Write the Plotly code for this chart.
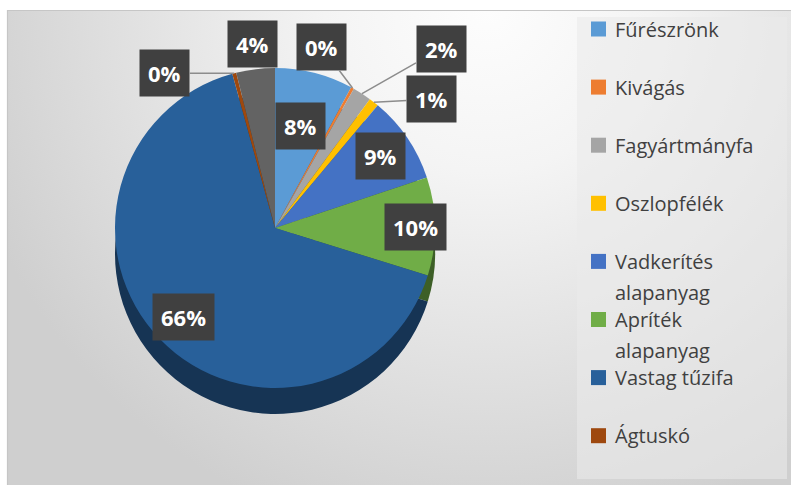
import base64
import math

import plotly.graph_objects as go

# ---- data -------------------------------------------------------------
categories = [
    "Fűrészrönk",
    "Kivágás",
    "Fagyártmányfa",
    "Oszlopfélék",
    "Vadkerítés alapanyag",
    "Apríték alapanyag",
    "Vastag tűzifa",
    "Ágtuskó",
    "Egyéb",
]
shares = [7.9, 0.3, 1.9, 1.0, 8.8, 9.9, 65.9, 0.4, 3.9]
legend_count = 8  # the last slice is not listed in the legend

# ---- style ------------------------------------------------------------
colors = ["#5B9BD5", "#ED7D31", "#A5A5A5", "#FFC000", "#4472C4",
          "#70AD47", "#28609A", "#9E480E", "#636363"]

W, H = 791, 485
CX, CY, R = 275, 228, 160      # pie centre and radius in pixels
DEPTH = 26                     # visible thickness of the pie side

# label placement: ("in", radius factor) or ("out", dx, dy) with a leader line
label_style = [
    ("in", 0.66),
    ("out", -31, -41),
    ("out", 79, -45),
    ("out", 58, -3),
    ("in", 0.80),
    ("in", 0.88),
    ("in", 0.80),
    ("out", -70, 0),
    ("in", 1.16),
]


def px(x):
    return x / W


def py(y):
    return 1 - y / H


def darken(hex_color, k=0.55):
    h = hex_color.lstrip("#")
    r, g, b = (int(h[i:i + 2], 16) for i in (0, 2, 4))
    return "rgb({},{},{})".format(int(r * k), int(g * k), int(b * k))


fig = go.Figure()

# side of the pie: same slices, darker, shifted down
fig.add_trace(go.Pie(
    labels=categories, values=shares, sort=False, direction="clockwise",
    rotation=0, textinfo="none", hoverinfo="skip", showlegend=False,
    marker=dict(colors=[darken(c) for c in colors], line=dict(width=0)),
    domain=dict(x=[px(CX - R), px(CX + R)],
                y=[py(CY + R + DEPTH), py(CY - R + DEPTH)]),
))

# top surface of the pie
fig.add_trace(go.Pie(
    labels=categories, values=shares, sort=False, direction="clockwise",
    rotation=0, textinfo="none", showlegend=False,
    hovertemplate="%{label}: %{percent:.0%}<extra></extra>",
    marker=dict(colors=colors, line=dict(width=0)),
    domain=dict(x=[px(CX - R), px(CX + R)],
                y=[py(CY + R), py(CY - R)]),
))

# ---- percentage labels --------------------------------------------------
total = sum(shares)
annotations = []
cum = 0.0
label_font = dict(family="Open Sans, sans-serif", size=22, color="white")
for v, style in zip(shares, label_style):
    theta = 2 * math.pi * (cum + v / 2) / total
    cum += v
    text = "<b>{}%</b>".format(round(v / total * 100))
    sx, sy = math.sin(theta), -math.cos(theta)
    if style[0] == "in":
        rho = style[1]
        x, y = CX + rho * R * sx, CY + rho * R * sy
        annotations.append(dict(
            x=px(x), y=py(y), xref="paper", yref="paper", text=text,
            showarrow=False, font=label_font, bgcolor="#404040",
            borderpad=8, xanchor="center", yanchor="middle"))
    else:
        dx, dy = style[1], style[2]
        x, y = CX + R * sx, CY + R * sy
        annotations.append(dict(
            x=px(x), y=py(y), xref="paper", yref="paper", text=text,
            showarrow=True, arrowhead=0, arrowwidth=1.5, arrowcolor="#8c8c8c",
            ax=dx, ay=dy, standoff=0, font=label_font, bgcolor="#404040",
            borderpad=8))

# ---- legend ---------------------------------------------------------------
LEG_X, LEG_Y0, LEG_STEP, LINE_STEP, SQ = 591, 29, 58.1, 31, 15
shapes = []
for i in range(legend_count):
    yc = LEG_Y0 + i * LEG_STEP
    shapes.append(dict(
        type="rect", xref="paper", yref="paper",
        x0=px(LEG_X), x1=px(LEG_X + SQ), y0=py(yc + SQ / 2), y1=py(yc - SQ / 2),
        fillcolor=colors[i], line=dict(width=0)))
    name = categories[i]
    lines = name.split(" ", 1) if len(name) > 14 else [name]
    for k, part in enumerate(lines):
        annotations.append(dict(
            x=px(LEG_X + SQ + 7), y=py(yc + k * LINE_STEP), xref="paper",
            yref="paper", text=part, showarrow=False, xanchor="left",
            yanchor="middle",
            font=dict(family="Open Sans, sans-serif", size=20, color="#404040")))

# legend panel and chart border
shapes.insert(0, dict(type="rect", xref="paper", yref="paper", layer="below",
                      x0=px(577), x1=px(787), y0=py(479), y1=py(17),
                      fillcolor="rgba(235,235,235,0.58)", line=dict(width=0)))
shapes.insert(0, dict(type="rect", xref="paper", yref="paper", layer="below",
                      x0=px(7.5), x1=px(800), y0=py(500), y1=py(10.5),
                      fillcolor="rgba(0,0,0,0)",
                      line=dict(color="#c6c6c6", width=1.2)))

# soft radial background of the chart area
svg = (
    '<svg xmlns="http://www.w3.org/2000/svg" width="784" height="475">'
    '<defs><radialGradient id="g" gradientUnits="userSpaceOnUse" '
    'cx="480" cy="0" r="540">'
    '<stop offset="0" stop-color="#fdfdfd"/>'
    '<stop offset="0.3" stop-color="#f4f4f4"/>'
    '<stop offset="1" stop-color="#cfcfcf"/>'
    '</radialGradient></defs>'
    '<rect width="784" height="475" fill="url(#g)"/></svg>'
)
bg_src = "data:image/svg+xml;base64," + base64.b64encode(svg.encode()).decode()

fig.update_layout(
    width=W, height=H,
    margin=dict(l=0, r=0, t=0, b=0),
    paper_bgcolor="white",
    plot_bgcolor="rgba(0,0,0,0)",
    showlegend=False,
    annotations=annotations,
    shapes=shapes,
    images=[dict(source=bg_src, xref="paper", yref="paper",
                 x=px(7), y=py(10), sizex=784 / W, sizey=475 / H,
                 xanchor="left", yanchor="top", sizing="stretch",
                 layer="below")],
)

fig.write_html("out.html")
